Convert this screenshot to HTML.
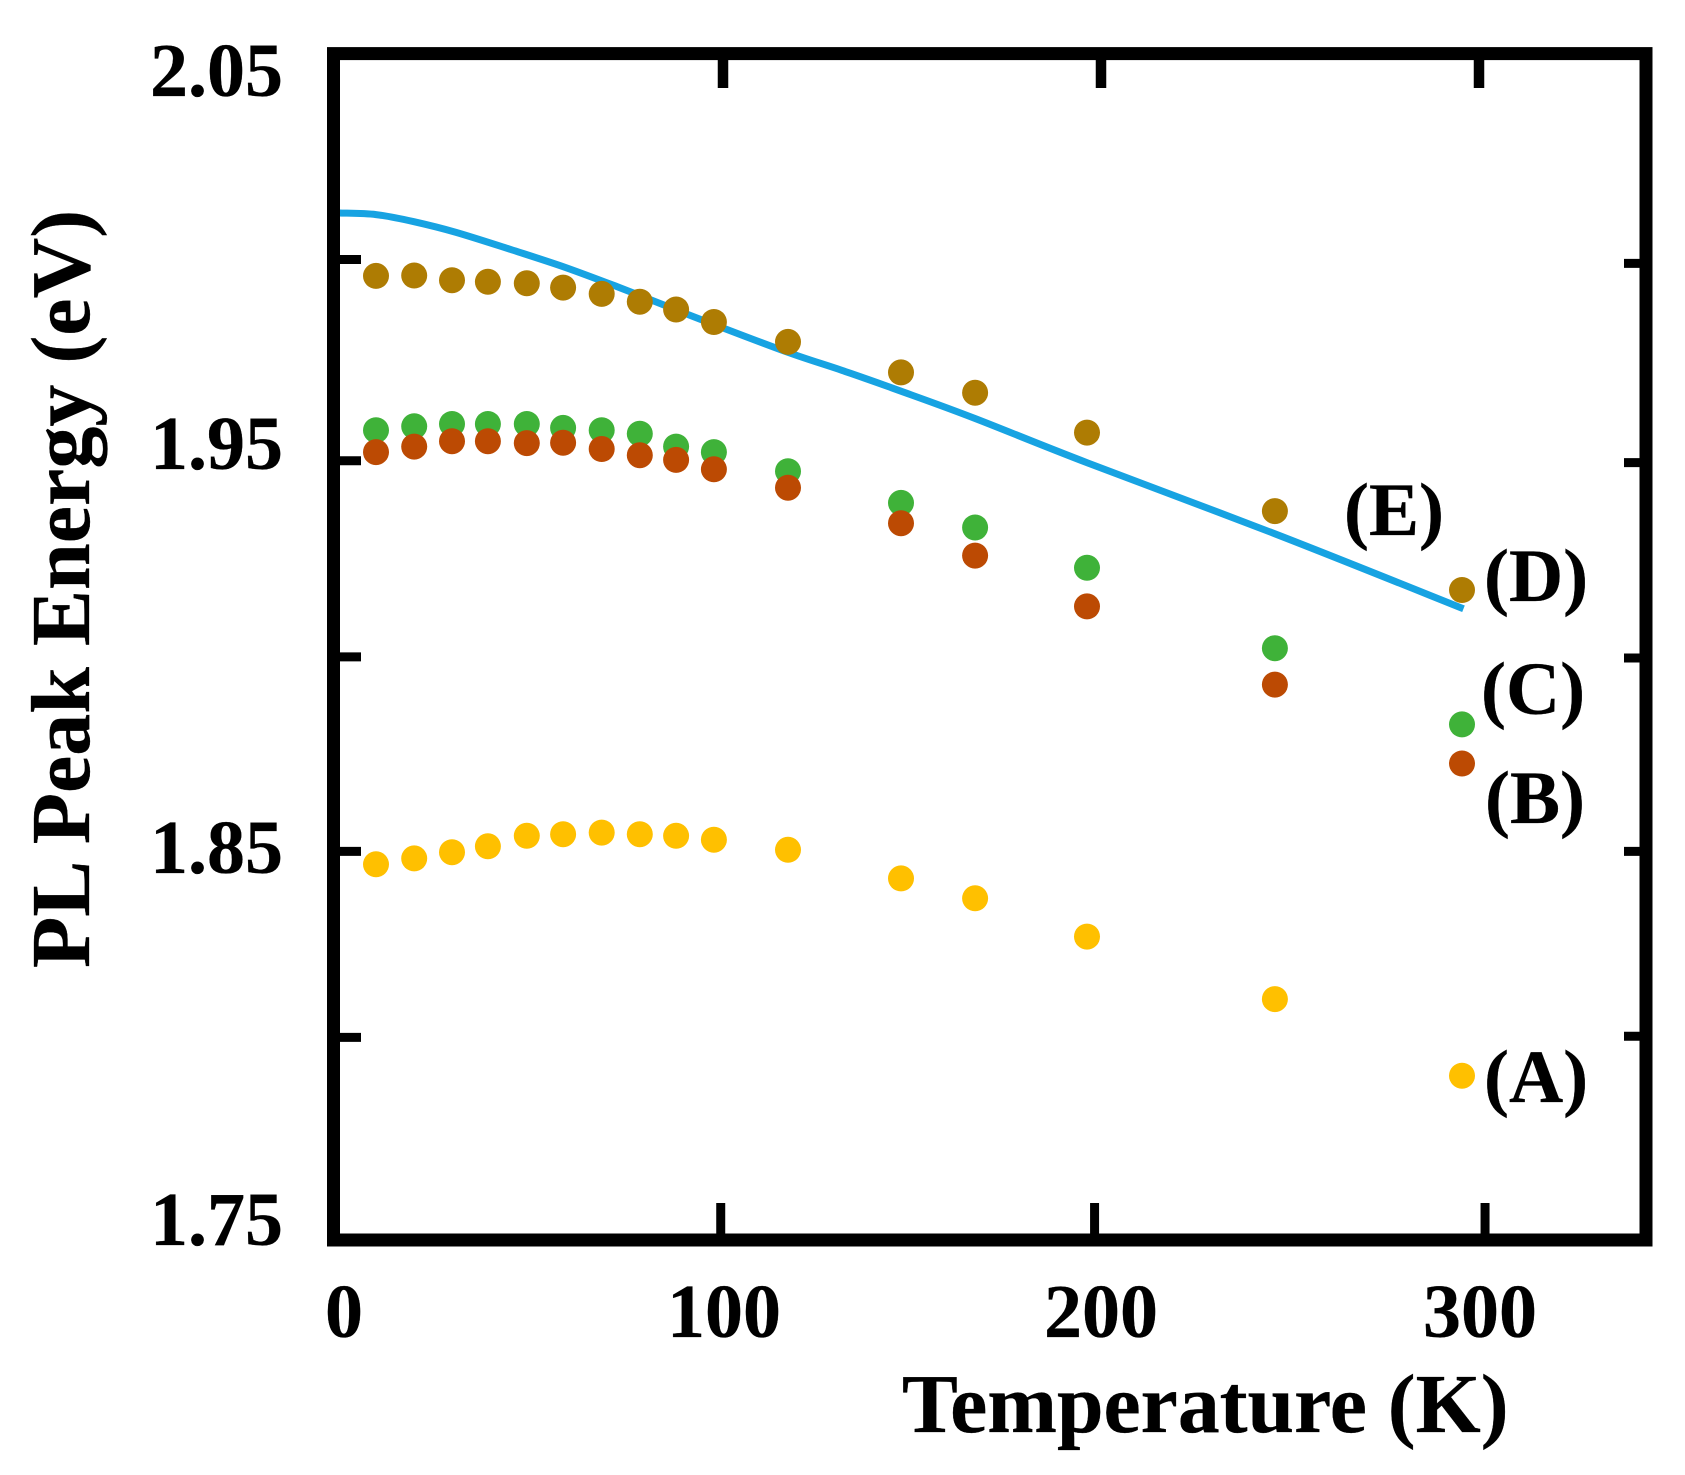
<!DOCTYPE html>
<html lang="en">
<head>
<meta charset="utf-8">
<title>PL Peak Energy vs Temperature</title>
<style>
  html, body { margin: 0; padding: 0; background: #fff; }
  body { width: 1685px; height: 1475px; overflow: hidden; }
  svg { display: block; }
  text { font-family: "Liberation Serif", serif; font-weight: bold; fill: #000; stroke: #000; stroke-width: 0.3px; }
</style>
</head>
<body>
<svg id="chart" width="1685" height="1475" viewBox="0 0 1685 1475" xmlns="http://www.w3.org/2000/svg">
  <g id="series-line"></g>
  <g id="series-dots"></g>
  <rect x="333.5" y="53.6" width="1312.5" height="1186.4" fill="none" stroke="#000" stroke-width="13"/>
  <g id="ticks"></g>
  <g id="tick-labels"></g>
  <text x="902" y="1432" font-size="83.7">Temperature (K)</text>
  <text transform="translate(89 968) rotate(-90)" font-size="84">PL Peak Energy (eV)</text>
  <text x="1344" y="535" font-size="75">(E)</text>
  <text x="1484" y="601" font-size="75">(D)</text>
  <text x="1481" y="714" font-size="75">(C)</text>
  <text x="1485" y="823" font-size="75">(B)</text>
  <text x="1484" y="1102" font-size="75">(A)</text>
</svg>
<script>
// Data
const temperatures = [8.2, 18.3, 28.3, 37.8, 48.1, 57.7, 67.9, 78, 87.6, 97.6, 117.2, 147.1, 166.7, 196.3, 246, 295.5];
const seriesA = [1.8467, 1.8482, 1.8498, 1.8513, 1.8540, 1.8544, 1.8548, 1.8544, 1.8540, 1.8530, 1.8504, 1.8431, 1.8380, 1.8282, 1.8122, 1.7926];
const seriesB = [1.9522, 1.9536, 1.9550, 1.9550, 1.9545, 1.9546, 1.9530, 1.9514, 1.9502, 1.9478, 1.9431, 1.9340, 1.9257, 1.9127, 1.8927, 1.8725];
const seriesC = [1.9578, 1.9588, 1.9594, 1.9594, 1.9594, 1.9584, 1.9578, 1.9569, 1.9536, 1.9522, 1.9473, 1.9392, 1.9329, 1.9226, 1.9020, 1.8825];
const seriesD = [1.9973, 1.9974, 1.9962, 1.9958, 1.9954, 1.9943, 1.9927, 1.9907, 1.9887, 1.9855, 1.9804, 1.9726, 1.9674, 1.9572, 1.9371, 1.9169];
const fitTemperatures = [-1.5, 8.2, 18.1, 29.5, 43.7, 57.9, 72.1, 86.3, 97.5, 117.3, 131.5, 147.1, 166.7, 196.5, 246, 295.9];
const fitEnergies = [2.0134, 2.0130, 2.0112, 2.0084, 2.0041, 1.9996, 1.9945, 1.9891, 1.9849, 1.9777, 1.9731, 1.9678, 1.9608, 1.9494, 1.9313, 1.9121];
const xTicksTop = [100, 200, 300];
const xTicksBottom = [99.4, 198.3, 301.6];
const yTicksLeft = [2.0015, 1.95, 1.8998, 1.85, 1.8024];
const yTicksRight = [2.0005, 1.9495, 1.8995, 1.85, 1.8027];

// Axis functions
function xScale(t) { return 345 + 3.78 * t; }
function yScale(v) { return 460.7 + (1.95 - v) * 3907; }

const NS = 'http://www.w3.org/2000/svg';
const dotsLayer = document.getElementById('series-dots');
const lineLayer = document.getElementById('series-line');
const ticksLayer = document.getElementById('ticks');
const labelsLayer = document.getElementById('tick-labels');

// Smooth fit curve through the read points (Catmull-Rom to Bezier)
function smoothPath(ts, vs) {
  const pts = ts.map(function (t, i) { return [xScale(t), yScale(vs[i])]; });
  let d = 'M' + pts[0][0].toFixed(1) + ' ' + pts[0][1].toFixed(1);
  for (let i = 0; i < pts.length - 1; i++) {
    const p0 = pts[Math.max(i - 1, 0)];
    const p1 = pts[i];
    const p2 = pts[i + 1];
    const p3 = pts[Math.min(i + 2, pts.length - 1)];
    const c1x = p1[0] + (p2[0] - p0[0]) / 6;
    const c1y = p1[1] + (p2[1] - p0[1]) / 6;
    const c2x = p2[0] - (p3[0] - p1[0]) / 6;
    const c2y = p2[1] - (p3[1] - p1[1]) / 6;
    d += ' C' + c1x.toFixed(1) + ' ' + c1y.toFixed(1) + ' ' + c2x.toFixed(1) + ' ' + c2y.toFixed(1) + ' ' + p2[0].toFixed(1) + ' ' + p2[1].toFixed(1);
  }
  return d;
}
const fitPath = document.createElementNS(NS, 'path');


fitPath.setAttribute('d', smoothPath(fitTemperatures, fitEnergies));
fitPath.setAttribute('fill', 'none');
fitPath.setAttribute('stroke', '#17A3E2');
fitPath.setAttribute('stroke-width', '7');
fitPath.setAttribute('stroke-linejoin', 'round');
lineLayer.appendChild(fitPath);

// Dots: later series paint over earlier ones (brown-red over green)
function drawSeries(values, color, name) {
  values.forEach(function (v, i) {
    const c = document.createElementNS(NS, 'circle');
    
    
    c.setAttribute('cx', xScale(temperatures[i]).toFixed(1));
    c.setAttribute('cy', yScale(v).toFixed(1));
    c.setAttribute('r', '13');
    c.setAttribute('fill', color);
    dotsLayer.appendChild(c);
  });
}
drawSeries(seriesA, '#FFC000', 'point-series-a');
drawSeries(seriesC, '#3FB239', 'point-series-c');
drawSeries(seriesB, '#BC4A03', 'point-series-b');
drawSeries(seriesD, '#AE7C03', 'point-series-d');

// Ticks
function addTick(x1, y1, x2, y2, width, name) {
  const l = document.createElementNS(NS, 'line');
  
  
  l.setAttribute('x1', x1);
  l.setAttribute('y1', y1);
  l.setAttribute('x2', x2);
  l.setAttribute('y2', y2);
  l.setAttribute('stroke', '#000');
  l.setAttribute('stroke-width', width);
  ticksLayer.appendChild(l);
}
xTicksTop.forEach(function (t) {
  addTick(xScale(t), 58, xScale(t), 88, 10.5, 'x-tick-top');
});
xTicksBottom.forEach(function (t) {
  addTick(xScale(t), 1236, xScale(t), 1203, 9, 'x-tick-bottom');
});
yTicksLeft.forEach(function (v) {
  addTick(338, yScale(v), 361, yScale(v), 9, 'y-tick-left');
});
yTicksRight.forEach(function (v) {
  addTick(1642, yScale(v), 1624, yScale(v), 9, 'y-tick-right');
});

// Tick labels
const yTickLabels = ['2.05', '1.95', '1.85', '1.75'];
const xTickLabels = ['0', '100', '200', '300'];
function addLabel(txt, x, y, anchor, name) {
  const e = document.createElementNS(NS, 'text');
  
  
  e.setAttribute('x', x);
  e.setAttribute('y', y);
  e.setAttribute('text-anchor', anchor);
  e.setAttribute('font-size', '76');
  e.textContent = txt;
  labelsLayer.appendChild(e);
}
addLabel(yTickLabels[0], 283, 96, 'end', 'y-tick-label');
addLabel(yTickLabels[1], 283, 469, 'end', 'y-tick-label');
addLabel(yTickLabels[2], 283, 873, 'end', 'y-tick-label');
addLabel(yTickLabels[3], 283, 1245, 'end', 'y-tick-label');
addLabel(xTickLabels[0], 344, 1337, 'middle', 'x-tick-label');
addLabel(xTickLabels[1], 724, 1337, 'middle', 'x-tick-label');
addLabel(xTickLabels[2], 1101, 1337, 'middle', 'x-tick-label');
addLabel(xTickLabels[3], 1480, 1337, 'middle', 'x-tick-label');
</script>
</body>
</html>
